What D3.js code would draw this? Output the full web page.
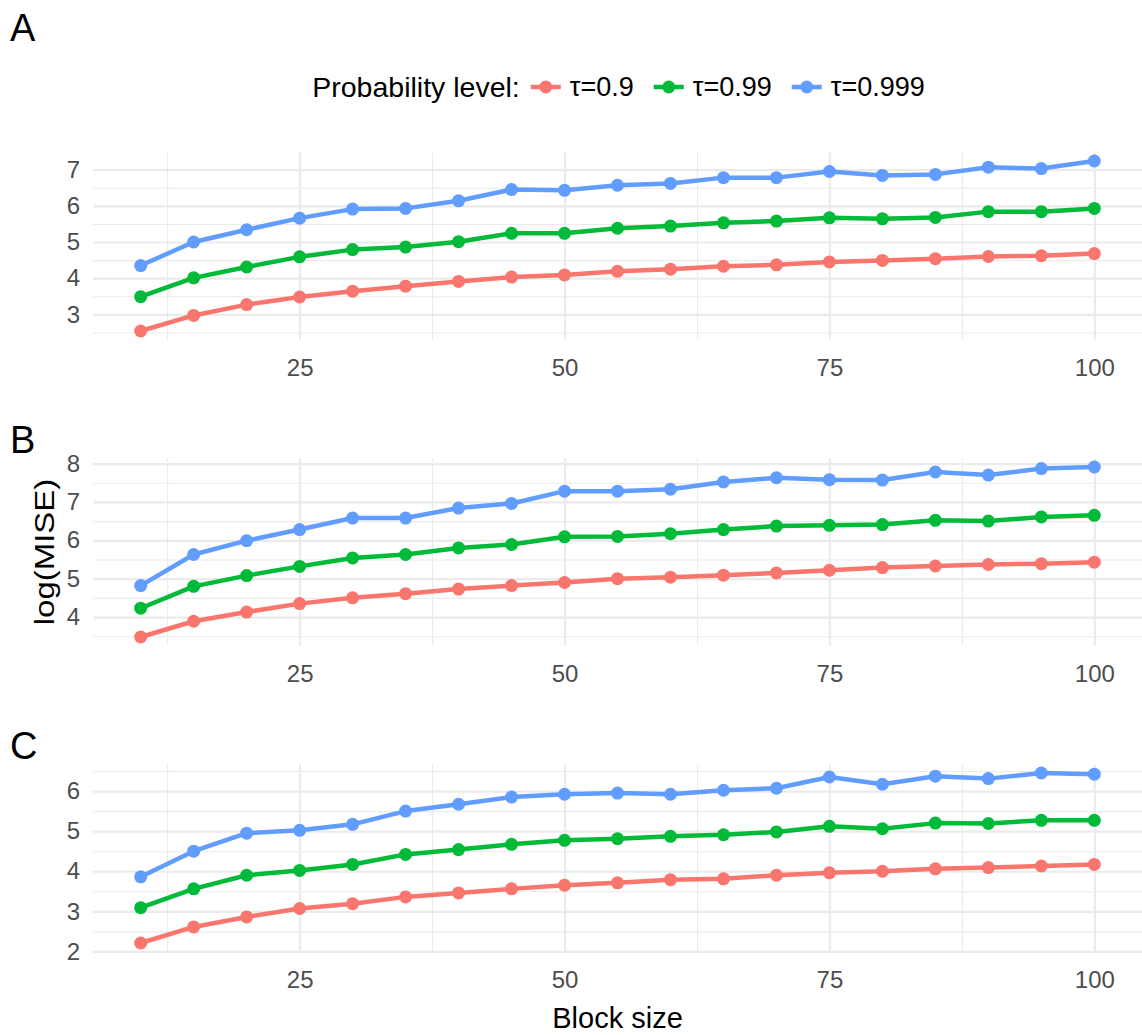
<!DOCTYPE html>
<html>
<head>
<meta charset="utf-8">
<script src="https://cdn.jsdelivr.net/npm/d3@7"></script>
<style>
  body { margin: 0; background: #fff; }
  svg { display: block; font-family: "Liberation Sans", Arial, sans-serif; }
</style>
</head>
<body>
<svg id="chart" width="1142" height="1035"></svg>
<script>
// Data
const blockSizes = [10, 15, 20, 25, 30, 35, 40, 45, 50, 55, 60, 65, 70, 75, 80, 85, 90, 95, 100];
const tauLabels = ["τ=0.9", "τ=0.99", "τ=0.999"];
const tauColors = ["#F8766D", "#00BA38", "#619CFF"];
const panelTags = ["A", "B", "C"];
const xTickValues = [25, 50, 75, 100];

const mseA_090 = [2.54, 2.97, 3.27, 3.48, 3.64, 3.78, 3.91, 4.03, 4.09, 4.19, 4.25, 4.33, 4.37, 4.45, 4.49, 4.54, 4.60, 4.62, 4.68];
const mseA_099 = [3.49, 4.01, 4.31, 4.59, 4.79, 4.86, 5.01, 5.24, 5.24, 5.38, 5.44, 5.53, 5.58, 5.67, 5.64, 5.68, 5.84, 5.84, 5.93];
const mseA_0999 = [4.35, 5.00, 5.34, 5.66, 5.91, 5.93, 6.14, 6.45, 6.43, 6.57, 6.62, 6.78, 6.78, 6.95, 6.84, 6.87, 7.07, 7.03, 7.24];

const mseB_090 = [3.48, 3.89, 4.13, 4.35, 4.50, 4.61, 4.73, 4.82, 4.90, 5.00, 5.04, 5.09, 5.15, 5.22, 5.29, 5.33, 5.37, 5.39, 5.43];
const mseB_099 = [4.23, 4.80, 5.08, 5.32, 5.54, 5.63, 5.80, 5.89, 6.09, 6.10, 6.17, 6.28, 6.37, 6.39, 6.41, 6.52, 6.50, 6.61, 6.65];
const mseB_0999 = [4.82, 5.63, 5.99, 6.28, 6.58, 6.58, 6.84, 6.96, 7.28, 7.28, 7.33, 7.52, 7.63, 7.58, 7.57, 7.78, 7.70, 7.87, 7.91];

const mseC_090 = [2.21, 2.61, 2.86, 3.07, 3.19, 3.36, 3.46, 3.56, 3.65, 3.71, 3.79, 3.81, 3.90, 3.96, 4.00, 4.06, 4.09, 4.13, 4.17];
const mseC_099 = [3.09, 3.56, 3.90, 4.02, 4.17, 4.42, 4.54, 4.67, 4.77, 4.81, 4.87, 4.91, 4.98, 5.12, 5.06, 5.20, 5.19, 5.27, 5.27];
const mseC_0999 = [3.86, 4.50, 4.95, 5.02, 5.17, 5.50, 5.67, 5.85, 5.92, 5.95, 5.92, 6.02, 6.07, 6.35, 6.17, 6.37, 6.31, 6.45, 6.42];

const panelSeries = [
    [mseA_090, mseA_099, mseA_0999],
    [mseB_090, mseB_099, mseB_0999],
    [mseC_090, mseC_099, mseC_0999],
];

// Layout
const plotLeft = 93;
const plotRight = 1142;
const panelTops = [152.5, 458.5, 764.5];
const panelHeight = 187;
const gridColor = "#EBEBEB";
const tickColor = "#4D4D4D";

const svg = d3.select("#chart");

// ggplot-like 5% expansion of the data range
function expand([lo, hi], mult = 0.05) {
    const pad = (hi - lo) * mult;
    return [lo - pad, hi + pad];
}

const x = d3.scaleLinear()
    .domain(expand(d3.extent(blockSizes)))
    .range([plotLeft, plotRight]);

const xMinor = xTickValues.map((v) => v - 12.5).filter((v) => v > x.domain()[0]);

function gridLines(sel, width) {
    sel.call((a) => a.select(".domain").remove())
        .selectAll("line")
        .attr("stroke", gridColor)
        .attr("stroke-width", width);
}

function tickText(sel) {
    sel.call((a) => a.select(".domain").remove())
        .selectAll("text")
        .attr("font-size", 24)
        .attr("font-family", null)
        .attr("fill", tickColor);
}

panelSeries.forEach((series, i) => {
    const top = panelTops[i];
    const bottom = top + panelHeight;
    const y = d3.scaleLinear()
        .domain(expand(d3.extent(series.flat())))
        .range([bottom, top]);

    const [lo, hi] = y.domain();
    const yMajor = d3.range(Math.ceil(lo), Math.floor(hi) + 1);
    const yMinor = d3.range(Math.ceil(lo - 0.5) + 0.5, hi, 1).filter((v) => v > lo);

    const g = svg.append("g").classed("panel", true);

    // Minor grid
    g.append("g")
        .attr("transform", `translate(${plotLeft},0)`)
        .call(d3.axisLeft(y).tickValues(yMinor).tickSize(-(plotRight - plotLeft)).tickFormat(""))
        .call(gridLines, 1.1);
    g.append("g")
        .attr("transform", `translate(0,${bottom})`)
        .call(d3.axisBottom(x).tickValues(xMinor).tickSize(-panelHeight).tickFormat(""))
        .call(gridLines, 1.1);

    // Major grid
    g.append("g")
        .attr("transform", `translate(${plotLeft},0)`)
        .call(d3.axisLeft(y).tickValues(yMajor).tickSize(-(plotRight - plotLeft)).tickFormat(""))
        .call(gridLines, 2.2);
    g.append("g")
        .attr("transform", `translate(0,${bottom})`)
        .call(d3.axisBottom(x).tickValues(xTickValues).tickSize(-panelHeight).tickFormat(""))
        .call(gridLines, 2.2);

    // Tick labels
    g.append("g")
        .attr("transform", `translate(${plotLeft},0)`)
        .call(d3.axisLeft(y).tickValues(yMajor).tickFormat(d3.format("d")).tickSize(0).tickPadding(13))
        .call(tickText);
    g.append("g")
        .attr("transform", `translate(0,${bottom})`)
        .call(d3.axisBottom(x).tickValues(xTickValues).tickFormat(d3.format("d")).tickSize(0).tickPadding(19))
        .call(tickText);

    // Lines and points
    const line = d3.line()
        .x((d, k) => x(blockSizes[k]))
        .y((d) => y(d));

    series.forEach((values, s) => {
        g.append("path")
            .datum(values)
            .attr("fill", "none")
            .attr("stroke", tauColors[s])
            .attr("stroke-width", 4.5)
            .attr("stroke-linejoin", "round")
            .attr("d", line);
        g.append("g")
            .selectAll("circle")
            .data(values)
            .join("circle")
            .attr("cx", (d, k) => x(blockSizes[k]))
            .attr("cy", (d) => y(d))
            .attr("r", 6.5)
            .attr("fill", tauColors[s]);
    });

    // Panel tag
    svg.append("text")
        .attr("x", 10)
        .attr("y", i === 0 ? 41 : top - 5.5)
        .attr("font-size", 38)
        .attr("fill", "#000")
        .text(panelTags[i]);
});

// Axis titles
svg.append("text")
    .attr("transform", `translate(54,${panelTops[1] + panelHeight / 2}) rotate(-90) scale(1.22,1)`)
    .attr("text-anchor", "middle")
    .attr("font-size", 27)
    .attr("fill", "#000")
    .text("log(MISE)");

svg.append("text")
    .attr("x", (plotLeft + plotRight) / 2)
    .attr("y", 1028)
    .attr("text-anchor", "middle")
    .attr("font-size", 29)
    .attr("fill", "#000")
    .text("Block size");

// Legend
const legend = svg.append("g");
const legendTitle = legend.append("text")
    .attr("font-size", 28.5)
    .attr("dy", "0.35em")
    .attr("fill", "#000")
    .text("Probability level:");

let cursor = legendTitle.node().getComputedTextLength() + 11;
tauLabels.forEach((label, s) => {
    const item = legend.append("g").attr("transform", `translate(${cursor},0)`);
    item.append("line")
        .attr("x1", 0).attr("x2", 30)
        .attr("stroke", tauColors[s])
        .attr("stroke-width", 4.5);
    item.append("circle").attr("cx", 15).attr("r", 6.5).attr("fill", tauColors[s]);
    const t = item.append("text")
        .attr("x", 39)
        .attr("dy", "0.35em")
        .attr("font-size", 27)
        .attr("fill", "#000")
        .text(label);
    cursor += 39 + t.node().getComputedTextLength() + 20;
});
const legendWidth = cursor - 20;
legend.attr("transform", `translate(${(plotLeft + plotRight) / 2 - legendWidth / 2 + 1},87)`);
</script>
</body>
</html>
